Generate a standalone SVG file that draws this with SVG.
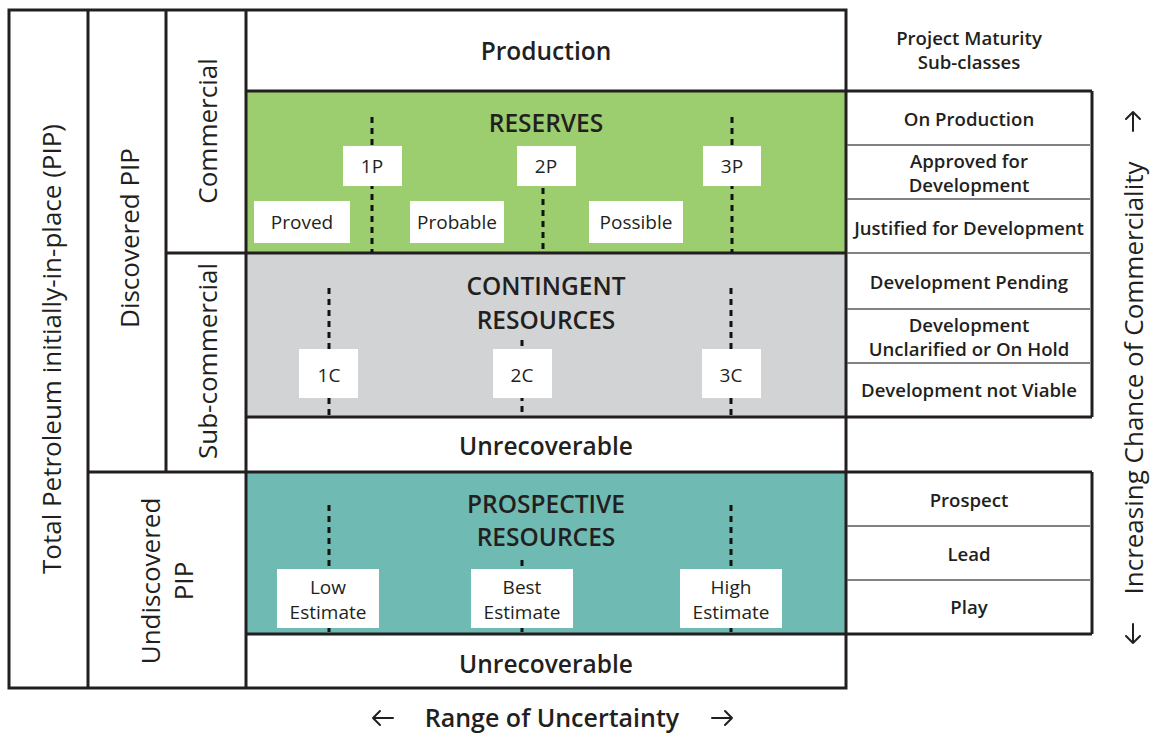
<svg xmlns="http://www.w3.org/2000/svg" width="1152" height="733" viewBox="0 0 1152 733">
  <style>
    .frame { fill: none; stroke: #231f20; stroke-width: 3; }
    .thick { stroke: #231f20; stroke-width: 3; fill: none; }
    .thin { stroke: #58595b; stroke-width: 1.3; fill: none; }
    .dash { stroke: #111; stroke-width: 3; stroke-dasharray: 6 5; fill: none; }
    .tag { fill: #ffffff; }
    .arrow { fill: none; stroke: #231f20; stroke-width: 2; stroke-linecap: round; stroke-linejoin: round; }
    text { font-family: "Open Sans", "Noto Sans", "Liberation Sans", sans-serif; fill: #231f20; text-anchor: middle; }
    .head { font-size: 24.5px; font-weight: 600; }
    .side { font-size: 26px; font-weight: 400; }
    .sub { font-size: 18.6px; font-weight: 600; }
    .lbl { font-size: 19px; font-weight: 400; }
    .axis { font-size: 25px; font-weight: 600; }
  </style>

  <rect width="1152" height="733" fill="#ffffff"/>

  <!-- class fills -->
  <g id="reserves">
    <rect x="246" y="91" width="600" height="162" fill="#9ccd6f"/>
    <text class="head" x="546" y="132">RESERVES</text>
  </g>
  <g id="contingent">
    <rect x="246" y="253" width="600" height="164" fill="#d1d3d4"/>
    <text class="head" x="546" y="295">CONTINGENT</text>
    <text class="head" x="546" y="329">RESOURCES</text>
  </g>
  <g id="prospective">
    <rect x="246" y="472" width="600" height="162" fill="#6fbab2"/>
    <text class="head" x="546" y="513">PROSPECTIVE</text>
    <text class="head" x="546" y="546">RESOURCES</text>
  </g>

  <!-- grid lines -->
  <g id="connectors">
    <rect class="frame" x="9" y="10" width="837" height="678"/>
    <line class="thick" x1="88" y1="10" x2="88" y2="688"/>
    <line class="thick" x1="166" y1="10" x2="166" y2="472"/>
    <line class="thick" x1="246" y1="10" x2="246" y2="688"/>
    <line class="thick" x1="246" y1="91" x2="1092" y2="91"/>
    <line class="thick" x1="166" y1="253" x2="846" y2="253"/>
    <line class="thick" x1="246" y1="417" x2="1092" y2="417"/>
    <line class="thick" x1="88" y1="472" x2="1092" y2="472"/>
    <line class="thick" x1="246" y1="634" x2="1092" y2="634"/>
    <line class="thick" x1="1092" y1="91" x2="1092" y2="417"/>
    <line class="thick" x1="1092" y1="472" x2="1092" y2="634"/>
    <line class="thin" x1="847" y1="145" x2="1090" y2="145"/>
    <line class="thin" x1="847" y1="199" x2="1090" y2="199"/>
    <line class="thin" x1="847" y1="253" x2="1090" y2="253"/>
    <line class="thin" x1="847" y1="309" x2="1090" y2="309"/>
    <line class="thin" x1="847" y1="363" x2="1090" y2="363"/>
    <line class="thin" x1="847" y1="526" x2="1090" y2="526"/>
    <line class="thin" x1="847" y1="580" x2="1090" y2="580"/>

    <!-- uncertainty markers -->
    <line class="dash" x1="372" y1="117" x2="372" y2="252"/>
    <line class="dash" x1="543" y1="188" x2="543" y2="252"/>
    <line class="dash" x1="732" y1="117" x2="732" y2="252"/>
    <line class="dash" x1="329" y1="288" x2="329" y2="416"/>
    <line class="dash" x1="522" y1="340" x2="522" y2="416"/>
    <line class="dash" x1="731" y1="288" x2="731" y2="416"/>
    <line class="dash" x1="329" y1="505" x2="329" y2="633"/>
    <line class="dash" x1="522" y1="560" x2="522" y2="633"/>
    <line class="dash" x1="731" y1="505" x2="731" y2="633"/>
  </g>

  <!-- row and column headings -->
  <g id="production"><text class="head" x="546" y="60">Production</text></g>
  <g id="unrecoverable-1"><text class="head" x="546" y="455">Unrecoverable</text></g>
  <g id="unrecoverable-2"><text class="head" x="546" y="673">Unrecoverable</text></g>

  <g id="total-pip"><text class="side" transform="translate(61 349) rotate(-90)">Total Petroleum initially-in-place (PIP)</text></g>
  <g id="discovered-pip"><text class="side" transform="translate(139 238) rotate(-90)">Discovered PIP</text></g>
  <g id="commercial"><text class="side" transform="translate(217 131) rotate(-90)">Commercial</text></g>
  <g id="sub-commercial"><text class="side" transform="translate(217 361) rotate(-90)">Sub-commercial</text></g>
  <g id="undiscovered-pip">
    <text class="side" transform="translate(160 581) rotate(-90)">Undiscovered</text>
    <text class="side" transform="translate(193 581) rotate(-90)">PIP</text>
  </g>

  <!-- value tags -->
  <g id="tag-1p"><rect class="tag" x="343" y="146" width="59" height="40"/><text class="lbl" x="372" y="173">1P</text></g>
  <g id="tag-2p"><rect class="tag" x="517" y="146" width="59" height="40"/><text class="lbl" x="546" y="173">2P</text></g>
  <g id="tag-3p"><rect class="tag" x="703" y="146" width="58" height="40"/><text class="lbl" x="732" y="173">3P</text></g>
  <g id="tag-proved"><rect class="tag" x="254" y="201" width="96" height="42"/><text class="lbl" x="302" y="229">Proved</text></g>
  <g id="tag-probable"><rect class="tag" x="410" y="201" width="94" height="42"/><text class="lbl" x="457" y="229">Probable</text></g>
  <g id="tag-possible"><rect class="tag" x="589" y="201" width="94" height="42"/><text class="lbl" x="636" y="229">Possible</text></g>

  <g id="tag-1c"><rect class="tag" x="299" y="349" width="59" height="49"/><text class="lbl" x="329" y="382">1C</text></g>
  <g id="tag-2c"><rect class="tag" x="493" y="349" width="59" height="49"/><text class="lbl" x="522" y="382">2C</text></g>
  <g id="tag-3c"><rect class="tag" x="702" y="349" width="59" height="49"/><text class="lbl" x="731" y="382">3C</text></g>

  <g id="tag-low"><rect class="tag" x="277" y="569" width="102" height="59"/><text class="lbl" x="328" y="594">Low</text><text class="lbl" x="328" y="619">Estimate</text></g>
  <g id="tag-best"><rect class="tag" x="471" y="569" width="102" height="59"/><text class="lbl" x="522" y="594">Best</text><text class="lbl" x="522" y="619">Estimate</text></g>
  <g id="tag-high"><rect class="tag" x="680" y="569" width="102" height="59"/><text class="lbl" x="731" y="594">High</text><text class="lbl" x="731" y="619">Estimate</text></g>

  <!-- project maturity sub-classes -->
  <g id="maturity-title"><text class="sub" x="969" y="45">Project Maturity</text><text class="sub" x="969" y="69">Sub-classes</text></g>
  <g id="on-production"><text class="sub" x="969" y="126">On Production</text></g>
  <g id="approved"><text class="sub" x="969" y="168">Approved for</text><text class="sub" x="969" y="192">Development</text></g>
  <g id="justified"><text class="sub" x="969" y="235">Justified for Development</text></g>
  <g id="pending"><text class="sub" x="969" y="289">Development Pending</text></g>
  <g id="unclarified"><text class="sub" x="969" y="332">Development</text><text class="sub" x="969" y="356">Unclarified or On Hold</text></g>
  <g id="not-viable"><text class="sub" x="969" y="397">Development not Viable</text></g>
  <g id="prospect"><text class="sub" x="969" y="507">Prospect</text></g>
  <g id="lead"><text class="sub" x="969" y="561">Lead</text></g>
  <g id="play"><text class="sub" x="969" y="614">Play</text></g>

  <!-- axes -->
  <g id="axis-commerciality">
    <text class="side" transform="translate(1143 378) rotate(-90)">Increasing Chance of Commerciality</text>
    <path class="arrow" d="M1133 131 V112 M1126 119 L1133 112 L1140 119"/>
    <path class="arrow" d="M1133 624 V643 M1126 636 L1133 643 L1140 636"/>
  </g>
  <g id="axis-uncertainty">
    <text class="axis" x="552" y="727">Range of Uncertainty</text>
    <path class="arrow" d="M393 718 H373 M380 711 L373 718 L380 725"/>
    <path class="arrow" d="M712 718 H732 M725 711 L732 718 L725 725"/>
  </g>
</svg>
